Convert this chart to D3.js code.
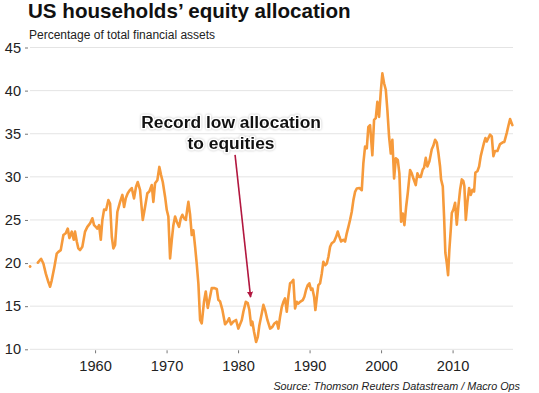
<!DOCTYPE html>
<html>
<head>
<meta charset="utf-8">
<script src="https://cdn.jsdelivr.net/npm/d3@7"></script>
<style>
    body { margin: 0; background: #fff; }
</style>
</head>
<body>
<div id="chartSection"></div>
<script>
/**
 * Data: year (decimal) and equity share of financial assets (%)
 */
const years = [
    1950.91, null,
    1952.00, 1952.45, 1952.77, 1953.10, 1953.47, 1953.71, 1953.94, 1954.31, 1954.64, 1954.87,
    1955.20, 1955.57, 1955.90, 1956.18, 1956.41, 1956.74, 1957.02, 1957.20, 1957.44, 1957.66,
    1957.90, 1958.22, 1958.60, 1958.92, 1959.30, 1959.62, 1959.86, 1960.10, 1960.32, 1960.56,
    1960.80, 1961.02, 1961.26, 1961.54, 1961.86, 1962.10, 1962.34, 1962.56, 1962.80, 1963.12,
    1963.50, 1963.82, 1964.06, 1964.29, 1964.57, 1964.90, 1965.13, 1965.45, 1965.73, 1965.97,
    1966.29, 1966.67, 1966.99, 1967.31, 1967.59, 1967.93, 1968.15, 1968.39, 1968.71, 1968.99,
    1969.23, 1969.47, 1969.79, 1970.03, 1970.25, 1970.49, 1970.73, 1970.95, 1971.19, 1971.43,
    1971.75, 1971.99, 1972.21, 1972.45, 1972.69, 1972.91, 1973.05, 1973.29, 1973.52, 1973.75,
    1973.99, 1974.22, 1974.45, 1974.69, 1974.92, 1975.24, 1975.48, 1975.76, 1976.08, 1976.32,
    1976.64, 1977.02, 1977.24, 1977.48, 1977.80, 1978.18, 1978.50, 1978.74, 1979.02, 1979.34,
    1979.72, 1980.04, 1980.52, 1980.74, 1981.08, 1981.36, 1981.58, 1981.82, 1982.00, 1982.24,
    1982.52, 1982.76, 1982.98, 1983.31, 1983.54, 1983.78, 1984.10, 1984.48, 1984.80, 1985.08,
    1985.41, 1985.64, 1985.87, 1986.11, 1986.34, 1986.57, 1986.81, 1987.03, 1987.27, 1987.51,
    1987.73, 1987.97, 1988.21, 1988.43, 1988.67, 1989.05, 1989.27, 1989.51, 1989.75, 1989.97,
    1990.21, 1990.39, 1990.63, 1990.81, 1991.05, 1991.23, 1991.47, 1991.71, 1991.93, 1992.17,
    1992.41, 1992.63, 1992.87, 1993.10, 1993.43, 1993.71, 1993.94, 1994.17, 1994.41, 1994.73,
    1994.97, 1995.20, 1995.43, 1995.66, 1995.90, 1996.13, 1996.36, 1996.60, 1996.97, 1997.30,
    1997.52, 1997.76, 1998.00, 1998.22, 1998.46, 1998.78, 1999.02, 1999.26, 1999.48, 1999.72,
    1999.96, 2000.18, 2000.42, 2000.66, 2000.88, 2001.12, 2001.36, 2001.58, 2001.82, 2002.06,
    2002.34, 2002.56, 2002.80, 2003.03, 2003.26, 2003.50, 2003.73, 2004.06, 2004.29, 2004.52,
    2004.85, 2005.08, 2005.31, 2005.55, 2005.83, 2006.01, 2006.25, 2006.48, 2006.76, 2007.09,
    2007.31, 2007.55, 2007.79, 2008.01, 2008.25, 2008.39, 2008.63, 2008.81, 2008.99, 2009.19,
    2009.37, 2009.55, 2009.75, 2009.89, 2010.11, 2010.35, 2010.59, 2010.81, 2011.05, 2011.29,
    2011.51, 2011.65, 2011.85, 2012.07, 2012.31, 2012.55, 2012.77, 2013.01, 2013.19, 2013.47,
    2013.71, 2013.94, 2014.17, 2014.41, 2014.59, 2014.78, 2015.01, 2015.24, 2015.48, 2015.71,
    2015.94, 2016.27, 2016.64, 2017.02, 2017.24, 2017.58, 2017.80, 2018.04, 2018.36
];

const equityShare = [
    19.6, null,
    20.05, 20.5, 19.95, 18.8, 17.8, 17.25, 18.0, 19.55, 21.1, 21.3,
    21.5, 23.25, 23.45, 24.0, 22.9, 23.65, 22.7, 23.65, 22.5, 21.7,
    21.5, 21.9, 23.65, 24.2, 24.6, 25.2, 24.4, 24.2, 24.0, 24.4,
    22.7, 25.0, 26.2, 26.15, 27.3, 26.9, 23.05, 21.7, 22.1, 25.95,
    27.1, 27.9, 26.5, 27.5, 28.1, 28.5, 28.7, 27.5, 28.85, 29.4,
    28.5, 25.0, 26.5, 28.1, 28.3, 29.05, 27.1, 29.25, 29.6, 31.15,
    30.2, 29.4, 27.7, 26.15, 25.4, 20.55, 22.7, 24.4, 25.4, 24.8,
    24.2, 25.2, 25.6, 25.2, 25.0, 26.35, 27.1, 25.6, 23.25, 23.8,
    21.9, 19.9, 17.6, 13.4, 13.0, 15.55, 16.7, 14.8, 16.1, 17.1,
    17.1, 17.0, 15.75, 15.55, 14.6, 12.9, 13.2, 13.6, 12.9, 13.2,
    13.4, 12.4, 13.4, 14.35, 15.5, 15.35, 14.55, 12.8, 13.2, 12.0,
    10.85, 11.45, 12.8, 14.15, 15.15, 14.55, 13.4, 12.4, 12.6, 13.0,
    13.2, 12.4, 13.75, 14.9, 15.5, 15.9, 14.35, 16.1, 17.65, 17.8,
    18.05, 14.75, 15.5, 15.3, 15.5, 15.7, 16.1, 16.9, 17.45, 17.65,
    16.9, 17.05, 16.1, 14.55, 16.25, 17.45, 17.65, 18.8, 20.15, 19.75,
    19.95, 20.7, 21.9, 22.3, 22.5, 23.05, 23.65, 23.05, 22.5, 22.7,
    22.5, 23.45, 24.2, 25.0, 25.95, 27.3, 28.25, 28.65, 28.7, 28.45,
    31.55, 33.5, 33.3, 35.8, 36.0, 32.5, 36.6, 36.8, 38.7, 36.95,
    39.9, 42.0, 40.85, 40.1, 37.75, 34.65, 32.7, 34.3, 29.8, 32.15,
    31.95, 30.4, 24.8, 25.75, 24.4, 26.5, 28.1, 30.8, 30.4, 29.8,
    29.05, 30.4, 30.0, 30.0, 30.85, 31.05, 32.2, 31.2, 31.8, 33.2,
    33.6, 34.3, 34.0, 32.8, 31.2, 29.7, 28.9, 25.4, 21.2, 20.0,
    18.6, 21.55, 23.9, 25.8, 26.2, 27.0, 24.45, 26.6, 28.5, 29.7,
    29.5, 28.9, 25.0, 27.0, 28.7, 27.9, 28.5, 28.3, 30.5, 30.65,
    31.2, 32.4, 33.2, 34.0, 34.5, 34.1, 34.5, 34.9, 34.7, 32.4,
    33.0, 33.0, 33.8, 34.0, 34.05, 35.1, 35.9, 36.7, 36.0
];

const yTicks = [10, 15, 20, 25, 30, 35, 40, 45];
const xTicks = [1960, 1970, 1980, 1990, 2000, 2010];

/**
 * Proportions of the SVG
 */
let svgWidth = 539;
let svgHeight = 393;

let plotLeft = 30;
let plotRight = 513;
let plotTop = 47.5;
let plotBottom = 349.3;

let fontFamily = "'Liberation Sans', Arial, Helvetica, sans-serif";
let lineColor = "#f69a3b";
let arrowColor = "#b2173f";
let tickFontSize = 14.6;

const x = d3.scaleLinear().domain([1950.9, 2018.45]).range([plotLeft, plotRight]);
const y = d3.scaleLinear().domain([10, 45]).range([plotBottom, plotTop]);

const svg = d3.select("#chartSection")
    .append("svg")
    .attr("width", svgWidth)
    .attr("height", svgHeight);

// arrow head
svg.append("defs").append("marker")
    .attr("id", "arrowHead")
    .attr("viewBox", "0 0 10 10")
    .attr("refX", 9)
    .attr("refY", 5)
    .attr("markerWidth", 6)
    .attr("markerHeight", 6)
    .attr("markerUnits", "userSpaceOnUse")
    .attr("orient", "auto")
    .append("path")
    .attr("d", "M0,0 L10,5 L0,10 Z")
    .attr("fill", arrowColor);

// title
svg.append("text")
    .attr("x", 28)
    .attr("y", 18)
    .attr("font-family", fontFamily)
    .attr("font-weight", "bold")
    .attr("font-size", 20.6)
    .attr("fill", "#111")
    .text("US households’ equity allocation");

svg.append("text")
    .attr("x", 29)
    .attr("y", 38.5)
    .attr("font-family", fontFamily)
    .attr("font-size", 12)
    .attr("fill", "#222")
    .text("Percentage of total financial assets");

/**
 * Grid and axes
 */
const grid = svg.append("g");
grid.selectAll("line")
    .data(yTicks)
    .enter()
    .append("line")
    .attr("x1", plotLeft)
    .attr("x2", plotRight)
    .attr("y1", d => y(d))
    .attr("y2", d => y(d))
    .attr("stroke", "#e4e4e4")
    .attr("stroke-width", 1);

const yAxis = svg.append("g")
    .attr("transform", `translate(${plotLeft - 2},0)`)
    .call(d3.axisLeft(y).tickValues(yTicks).tickSize(3).tickPadding(4));
yAxis.select(".domain").remove();
yAxis.selectAll(".tick line").attr("stroke", "#777");
yAxis.selectAll(".tick text")
    .attr("font-family", fontFamily)
    .attr("font-size", tickFontSize)
    .attr("fill", "#222");

const xAxis = svg.append("g")
    .attr("transform", `translate(0,${plotBottom + 1})`)
    .call(d3.axisBottom(x).tickValues(xTicks).tickFormat(d3.format("d")).tickSize(3).tickPadding(7));
xAxis.select(".domain").remove();
xAxis.selectAll(".tick line").attr("stroke", "#777");
xAxis.selectAll(".tick text")
    .attr("font-family", fontFamily)
    .attr("font-size", tickFontSize)
    .attr("fill", "#222");

/**
 * Series line
 */
const points = years.map((d, i) => ({ year: d, value: equityShare[i] }));

const line = d3.line()
    .defined(d => d.value !== null)
    .x(d => x(d.year))
    .y(d => y(d.value));

svg.append("path")
    .datum(points)
    .attr("d", line)
    .attr("fill", "none")
    .attr("stroke", lineColor)
    .attr("stroke-width", 2.6)
    .attr("stroke-linejoin", "round")
    .attr("stroke-linecap", "round");

// lone first observation
svg.append("circle")
    .attr("cx", x(points[0].year))
    .attr("cy", y(points[0].value))
    .attr("r", 1.3)
    .attr("fill", lineColor);

/**
 * Annotation
 */
const annoX = 1979.02;
const annoLines = ["Record low allocation", "to equities"];

svg.append("g").selectAll("text")
    .data(annoLines)
    .enter()
    .append("text")
    .attr("x", x(annoX))
    .attr("y", (_, i) => 128 + i * 21.3)
    .attr("text-anchor", "middle")
    .attr("font-family", fontFamily)
    .attr("font-weight", "bold")
    .attr("font-size", 17.4)
    .attr("fill", "#111")
    .attr("stroke", "#fff")
    .attr("stroke-width", 3)
    .attr("stroke-linejoin", "round")
    .attr("paint-order", "stroke")
    .style("filter", "drop-shadow(0px 0px 1px rgba(0,0,0,0.25))")
    .text(d => d);

svg.append("line")
    .attr("x1", x(1979.58))
    .attr("y1", y(32.55))
    .attr("x2", x(1981.75))
    .attr("y2", y(16.05))
    .attr("stroke", arrowColor)
    .attr("stroke-width", 1.6)
    .attr("marker-end", "url(#arrowHead)");

// source
svg.append("text")
    .attr("x", 520)
    .attr("y", 390)
    .attr("text-anchor", "end")
    .attr("font-family", fontFamily)
    .attr("font-style", "italic")
    .attr("font-size", 10.8)
    .attr("fill", "#222")
    .text("Source: Thomson Reuters Datastream / Macro Ops");
</script>
</body>
</html>
